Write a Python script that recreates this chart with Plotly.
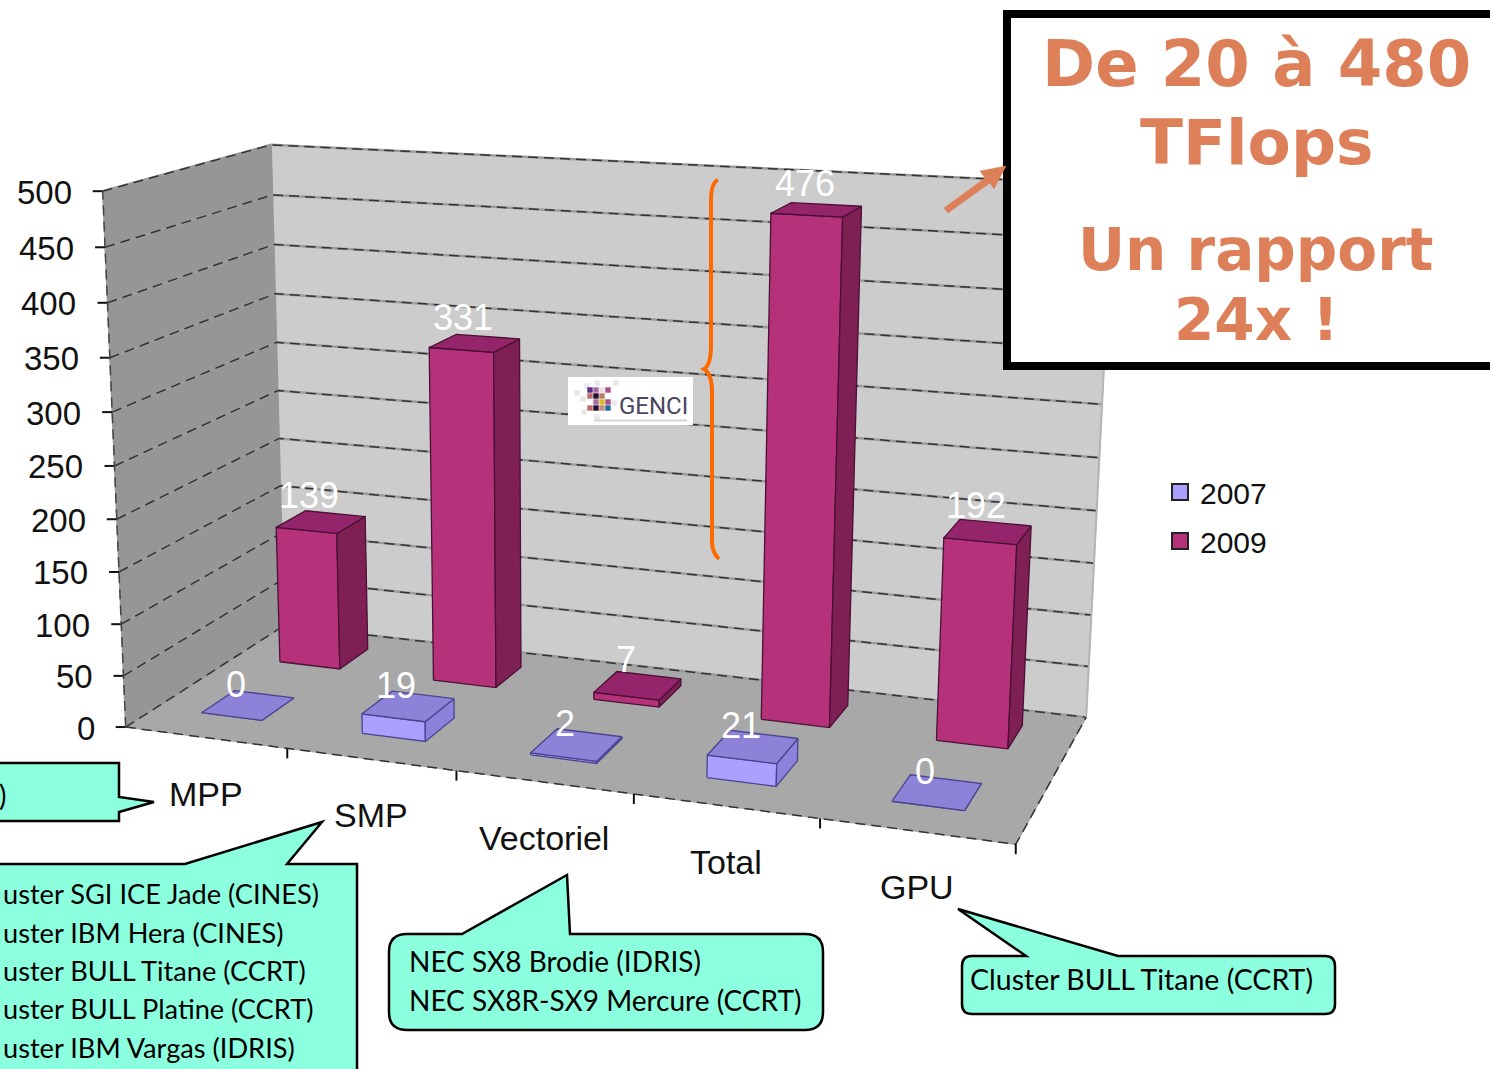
import numpy as np
import plotly.graph_objects as go

# ---------- data ----------
categories = ["MPP", "SMP", "Vectoriel", "Total", "GPU"]
series_names = ["2007", "2009"]
values_2007 = [0, 19, 2, 21, 0]
values_2009 = [139, 331, 7, 476, 192]
axis_ticks = [0, 50, 100, 150, 200, 250, 300, 350, 400, 450, 500]

# ---------- 3D scale: (category, depth, value) -> page pixels ----------
world = [(0, 0, 0), (0, 1, 0), (0, 1, 500), (0, 0, 500), (5, 1, 0), (5, 1, 500), (5, 0, 0)]
page = [(127, 723), (283, 630), (272, 144), (102, 191), (1087, 712), (1113, 186), (1015, 849)]
rows = []
for (a, b, c), (u, v) in zip(world, page):
    X = [a / 5, b, c / 500, 1]
    u, v = u / 1000, v / 1000
    rows.append(X + [0, 0, 0, 0] + [-u * q for q in X])
    rows.append([0, 0, 0, 0] + X + [-v * q for q in X])
P = np.linalg.svd(np.array(rows))[2][-1].reshape(3, 4)


def proj(a, b, c):
    h = P @ np.array([a / 5, b, c / 500, 1])
    return h[0] / h[2] * 1000, h[1] / h[2] * 1000


def poly(points):
    pts = [proj(*p) for p in points]
    pts.append(pts[0])
    return [p[0] for p in pts], [p[1] for p in pts]


fig = go.Figure()


def face(points, fill, edge=None, width=1.3):
    x, y = poly(points)
    fig.add_trace(go.Scatter(x=x, y=y, mode="lines", fill="toself", fillcolor=fill,
                             line=dict(color=edge or fill, width=width),
                             hoverinfo="skip", showlegend=False))


def path3(points, color, width=1, dash=None):
    pts = [proj(*p) for p in points]
    fig.add_trace(go.Scatter(x=[p[0] for p in pts], y=[p[1] for p in pts], mode="lines",
                             line=dict(color=color, width=width, dash=dash),
                             hoverinfo="skip", showlegend=False))


# walls and floor
WALL, SIDE, FLOOR = "#CCCCCC", "#969696", "#A8A8A8"
face([(0, 1, 0), (5, 1, 0), (5, 1, 500), (0, 1, 500)], WALL)
face([(0, 0, 0), (0, 1, 0), (0, 1, 500), (0, 0, 500)], SIDE)
face([(0, 0, 0), (5, 0, 0), (5, 1, 0), (0, 1, 0)], FLOOR)

for v in axis_ticks:
    line = [(0, 0, v), (0, 1, v), (5, 1, v)]
    path3(line, "#9C9C9C", 2.5)
    path3(line, "#333333", 1.5, "10px,6px")
    x0, y0 = proj(0, 0, v)
    fig.add_trace(go.Scatter(x=[x0 - 10, x0], y=[y0, y0], mode="lines",
                             line=dict(color="#111111", width=2), hoverinfo="skip", showlegend=False))
    fig.add_annotation(x=x0 - 29, y=y0 + 1, text=str(v), showarrow=False, xanchor="right", yanchor="middle",
                       font=dict(family="Liberation Sans", size=33, color="#111111"))

path3([(0, 0, 0), (0, 0, 500)], "#444444", 1.5, "10px,6px")
path3([(5, 1, 0), (5, 1, 500)], "#B4B4B4", 2)
path3([(0, 0, 0), (5, 0, 0), (5, 1, 0)], "#333333", 1.5, "10px,6px")

for i in range(1, 6):
    x0, y0 = proj(i, 0, 0)
    fig.add_trace(go.Scatter(x=[x0, x0], y=[y0, y0 + 10], mode="lines",
                             line=dict(color="#111111", width=2), hoverinfo="skip", showlegend=False))
for i, name in enumerate(categories):
    x0, y0 = proj(i + 0.5, 0, 0)
    fig.add_annotation(x=x0, y=y0 + 56, text=name, showarrow=False, xanchor="center", yanchor="middle",
                       font=dict(family="Liberation Sans", size=34, color="#111111"))

# bars
BAR_X = {"2007": (0.285, 0.665), "2009": (0.295, 0.69)}
ROWS = {"2007": (0.18, 0.385), "2009": (0.67, 0.87)}
LABEL_LIFT = {"2007": 21, "2009": 26}
STYLE = {
    "2007": dict(front="#AAA0FF", side="#8C82DC", top="#8C82D8", edge="#4A4590"),
    "2009": dict(front="#B5327A", side="#7F2054", top="#94256A", edge="#4A1035"),
}


def bar(i, v, series):
    st = STYLE[series]
    x0, x1 = i + BAR_X[series][0], i + BAR_X[series][1]
    y0, y1 = ROWS[series]
    face([(x0, y0, 0), (x1, y0, 0), (x1, y0, v), (x0, y0, v)], st["front"], st["edge"])
    face([(x1, y0, 0), (x1, y1, 0), (x1, y1, v), (x1, y0, v)], st["side"], st["edge"])
    face([(x0, y0, v), (x1, y0, v), (x1, y1, v), (x0, y1, v)], st["top"], st["edge"])


for series, vals in (("2009", values_2009), ("2007", values_2007)):
    for i, v in enumerate(vals):
        bar(i, v, series)
for series, vals in (("2009", values_2009), ("2007", values_2007)):
    for i, v in enumerate(vals):
        xc, yc = proj(i + sum(BAR_X[series]) / 2, sum(ROWS[series]) / 2, v)
        fig.add_annotation(x=xc - 12, y=yc - LABEL_LIFT[series], text=str(v), showarrow=False,
                           xanchor="center", yanchor="middle",
                           font=dict(family="Liberation Sans", size=36, color="#FFFFFF"))

# legend
for name in series_names:
    fig.add_trace(go.Scatter(x=[None], y=[None], mode="markers", name=name, legendgroup=name,
                             marker=dict(symbol="square", size=16, color=STYLE[name]["front"],
                                         line=dict(color="#222222", width=2))))

# ---------- overlays (page decoration) ----------
shapes = []
MINT = "#8CFFDE"


def shape_path(d, fill=None, line="#000000", width=2.5):
    shapes.append(dict(type="path", path=d, xref="x", yref="y", layer="above",
                       fillcolor=fill or "rgba(0,0,0,0)", line=dict(color=line, width=width)))


def rounded_callout(x0, y0, x1, y1, r, p_left, tip, p_right):
    return (f"M{x0 + r},{y0} L{p_left},{y0} L{tip[0]},{tip[1]} L{p_right},{y0} L{x1 - r},{y0} "
            f"Q{x1},{y0} {x1},{y0 + r} L{x1},{y1 - r} Q{x1},{y1} {x1 - r},{y1} L{x0 + r},{y1} "
            f"Q{x0},{y1} {x0},{y1 - r} L{x0},{y0 + r} Q{x0},{y0} {x0 + r},{y0} Z")


shape_path("M-10,763 L119,763 L119,797 L154,802 L119,812 L119,821 L-10,821 Z", MINT)
shape_path("M-10,864 L185,864 L322,822 L287,864 L357,864 L357,1085 L-10,1085 Z", MINT)
shape_path(rounded_callout(389, 934, 823, 1030, 18, 462, (567, 875), 570), MINT)
shape_path(rounded_callout(962, 956, 1335, 1014, 10, 1026, (958, 909), 1118), MINT)

# big box
shapes.append(dict(type="rect", x0=1007, x1=1510, y0=14, y1=366, xref="x", yref="y", layer="above",
                   fillcolor="#FFFFFF", line=dict(color="#000000", width=8)))
ORANGE = "#DD8059"
shape_path("M944,208 L985,178 L980,171 L1006,166 L994,189 L990,183 L948,213 Z", ORANGE, ORANGE, 0.5)
shape_path("M718,180 Q711,183 711,200 L711,345 Q711,365 704,369 Q712,374 712,392 L712,540 Q712,553 719,559",
           None, "#FF6A00", 4)

# logo
shapes.append(dict(type="rect", x0=568, x1=693, y0=377, y1=425, xref="x", yref="y", layer="above",
                   fillcolor="#FFFFFF", line=dict(width=0)))
logo_cells = [
    (587, 386, "#E8E8E8"), (597, 383, "#E8E8E8"), (616, 383, "#E8E8E8"), (577, 393, "#E8E8E8"),
    (583, 399, "#E8E8E8"), (614, 403, "#E8E8E8"), (584, 412, "#E8E8E8"), (597, 417, "#E8E8E8"),
    (602, 390, "#EBDDE6"), (590, 390, "#5A2D82"), (596, 390, "#A86AA5"), (608, 390, "#A8508A"),
    (590, 396, "#C06A70"), (596, 396, "#1C1230"), (602, 396, "#B87A70"),
    (596, 402, "#A86AA5"), (602, 402, "#D4C020"), (608, 402, "#A8508A"),
    (590, 408, "#C06A70"), (596, 408, "#1C1230"), (602, 408, "#C88A80"), (608, 408, "#1A6A9A"),
]
for cx, cy, col in logo_cells:
    shapes.append(dict(type="rect", x0=cx - 2.7, x1=cx + 2.7, y0=cy - 2.7, y1=cy + 2.7, xref="x", yref="y",
                       layer="above", fillcolor=col, line=dict(width=0)))
shapes.append(dict(type="rect", x0=594, x1=687, y0=419.5, y1=421.5, xref="x", yref="y", layer="above",
                   fillcolor="#D6D3DA", line=dict(width=0)))
fig.add_annotation(x=617, y=406, text="GENCI", showarrow=False, xanchor="left", yanchor="middle",
                   font=dict(family="Roboto", size=24, color="#4B4560"))

# callout and headline text (the left callouts run off the page in the reference)
CAL = dict(family="Lato", size=28, color="#000000")
for txt, y in (("uster SGI ICE Jade (CINES)", 893), ("uster IBM Hera (CINES)", 932),
               ("uster BULL Titane (CCRT)", 970), ("uster BULL Platine (CCRT)", 1008),
               ("uster IBM Vargas (IDRIS)", 1047)):
    fig.add_annotation(x=1, y=y, text=txt, showarrow=False, xanchor="left", yanchor="middle",
                       font=dict(family="Lato", size=27.2, color="#000000"))
fig.add_annotation(x=8, y=795, text=")", showarrow=False, xanchor="right", yanchor="middle", font=CAL)
for txt, x, y, size in (("NEC SX8 Brodie (IDRIS)", 407, 961, 28), ("NEC SX8R-SX9 Mercure (CCRT)", 407, 1000, 28),
                        ("Cluster BULL Titane (CCRT)", 968, 979, 28.5)):
    fig.add_annotation(x=x, y=y, text=txt, showarrow=False, xanchor="left", yanchor="middle",
                       font=dict(family="Lato", size=size, color="#000000"))
for txt, y, size in (("De 20 à 480", 64, 64), ("TFlops", 142, 63), ("Un rapport", 250, 58), ("24x !", 320, 58)):
    fig.add_annotation(x=1256, y=y, text=txt, showarrow=False, xanchor="center", yanchor="middle",
                       font=dict(family="DejaVu Sans", size=size, color=ORANGE, weight="bold"))

fig.update_layout(
    width=1490, height=1069, margin=dict(l=0, r=0, t=0, b=0, pad=0, autoexpand=False),
    paper_bgcolor="#FFFFFF", plot_bgcolor="#FFFFFF", shapes=shapes,
    xaxis=dict(range=[0, 1490], visible=False, fixedrange=True),
    yaxis=dict(range=[1069, 0], visible=False, fixedrange=True),
    legend=dict(x=1160 / 1490, y=1 - 466 / 1069, xanchor="left", yanchor="top", bgcolor="rgba(0,0,0,0)",
                font=dict(family="Liberation Sans", size=30, color="#111111"), tracegroupgap=7),
)
fig.write_html("out.html", config=dict(displayModeBar=False),
               post_script="document.body.style.margin='0';document.body.style.overflow='hidden';")
